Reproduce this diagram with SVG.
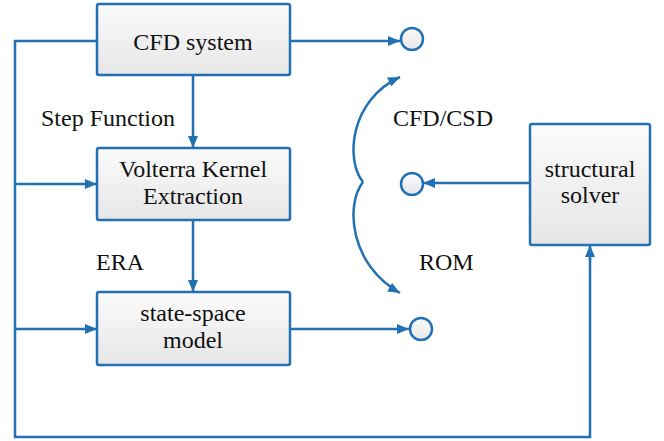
<svg xmlns="http://www.w3.org/2000/svg" width="664" height="441" viewBox="0 0 664 441">
<defs>
<linearGradient id="g" x1="0" y1="0" x2="0" y2="1">
<stop offset="0" stop-color="#fbfbfb"/>
<stop offset="1" stop-color="#e6e6e6"/>
</linearGradient>
<marker id="ah" viewBox="0 0 12 10" refX="12" refY="5" markerWidth="12" markerHeight="10" markerUnits="userSpaceOnUse" orient="auto">
<path d="M0,0 L12,5 L0,10 Z" fill="#2371b5"/>
</marker>
<style>
.box{fill:url(#g);stroke:#2371b5;stroke-width:2.5}
.port{fill:url(#g);stroke:#2371b5;stroke-width:2.5}
.ln{fill:none;stroke:#2371b5;stroke-width:2.5}
.ar{fill:none;stroke:#2371b5;stroke-width:2.5;marker-end:url(#ah)}
.t{font-family:"Liberation Serif","Times New Roman",Times,"Noto Serif","DejaVu Serif",FreeSerif,serif;font-size:24px;fill:#111}
.c{text-anchor:middle}
</style>
</defs>
<rect width="664" height="441" fill="#fff"/>
<g id="connectors">
<path class="ln" d="M97,41 H15 V437 H590 V258"/>
<path class="ar" d="M590,260 V245"/>
<path class="ar" d="M15,184 H97"/>
<path class="ar" d="M15,329 H97"/>
<path class="ar" d="M193,75 V148"/>
<path class="ar" d="M193,220 V292"/>
<path class="ar" d="M290,41 H400"/>
<path class="ar" d="M530,183 H423"/>
<path class="ar" d="M290,329 H409"/>
<path class="ar" d="M363,182 C345,160 350,100 400,77"/>
<path class="ar" d="M363,182 C345,205 350,265 400,293"/>
</g>
<g id="cfd"><rect class="box" x="97" y="4" width="193" height="71" rx="2"/><text class="t c" x="193" y="50">CFD system</text></g>
<g id="volterra"><rect class="box" x="97" y="148" width="193" height="72" rx="2"/><text class="t c" x="193" y="177">Volterra Kernel</text><text class="t c" x="193" y="204">Extraction</text></g>
<g id="ss"><rect class="box" x="97" y="292" width="193" height="73" rx="2"/><text class="t c" x="193" y="321">state-space</text><text class="t c" x="193" y="348">model</text></g>
<g id="solver"><rect class="box" x="530" y="124" width="120" height="121" rx="2"/><text class="t c" x="590" y="177">structural</text><text class="t c" x="590" y="203">solver</text></g>
<g id="p1"><circle class="port" cx="412" cy="39" r="11"/></g>
<g id="p2"><circle class="port" cx="412" cy="184" r="11"/></g>
<g id="p3"><circle class="port" cx="421" cy="329" r="11"/></g>
<g id="labels">
<text class="t" x="41" y="126">Step Function</text>
<text class="t" x="96" y="270">ERA</text>
<text class="t" x="393" y="126">CFD/CSD</text>
<text class="t" x="419" y="270">ROM</text>
</g>
</svg>
